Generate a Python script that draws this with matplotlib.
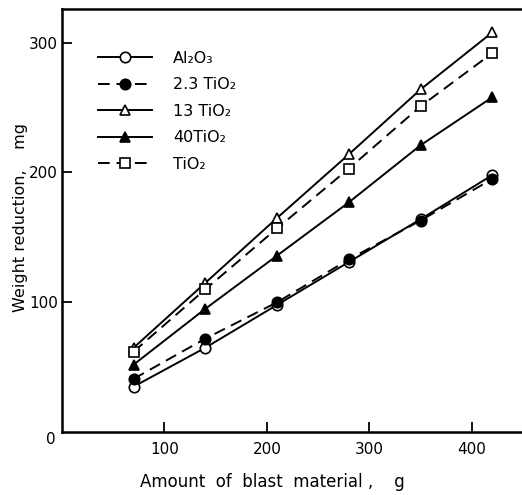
import numpy as np
import matplotlib
matplotlib.use("Agg")
import matplotlib.pyplot as plt

# blast material amount (g)
amount = [70, 140, 210, 280, 350, 420]

# weight reduction (mg) for each powder
al2o3 = [35, 65, 98, 131, 164, 198]
tio2_23 = [41, 72, 100, 133, 163, 195]
tio2_13 = [65, 115, 165, 214, 264, 308]
tio2_40 = [52, 95, 136, 177, 221, 258]
tio2 = [62, 110, 157, 203, 251, 292]

labels = ["Al\u2082O\u2083", "2.3 TiO\u2082", "13 TiO\u2082", "40TiO\u2082", "TiO\u2082"]

plt.rcParams["font.family"] = "DejaVu Sans"
plt.rcParams["font.size"] = 11

fig = plt.figure(figsize=(5.22, 4.95), dpi=100)
ax = fig.add_axes([62 / 522, 63 / 495, 460 / 522, 423 / 495])

dash = (0, (6, 3.5))
kw = dict(color="black", lw=1.4, mec="black", mew=1.2)
ax.plot(amount, al2o3, "-", marker="o", ms=7.5, mfc="white", label=labels[0], **kw)
ax.plot(amount, tio2_23, linestyle=dash, marker="o", ms=7.5, mfc="black", label=labels[1], **kw)
ax.plot(amount, tio2_13, "-", marker="^", ms=7.5, mfc="white", label=labels[2], **kw)
ax.plot(amount, tio2_40, "-", marker="^", ms=7.5, mfc="black", label=labels[3], **kw)
ax.plot(amount, tio2, linestyle=dash, marker="s", ms=6.5, mfc="white", label=labels[4], **kw)

ax.set_xlim(0, 449)
ax.set_ylim(0, 326)
ax.set_xticks([100, 200, 300, 400])
ax.set_yticks([100, 200, 300])
ax.tick_params(direction="in", length=7, width=1.3, labelsize=11)
ax.tick_params(axis="x", pad=7)
ax.tick_params(axis="y", pad=3)
ax.text(-11, -6, "0", ha="center", va="center", fontsize=11, clip_on=False)

for side in ["left", "bottom", "top"]:
    ax.spines[side].set_linewidth(1.8)
ax.spines["right"].set_visible(False)

ax.set_xlabel("Amount  of  blast  material ,    g", fontsize=12)
ax.xaxis.set_label_coords((272 - 62) / 460, (432 - 473) / 423)
ax.set_ylabel("Weight reduction,    mg", fontsize=11.5)
ax.yaxis.set_label_coords((28 - 62) / 460, (432 - 217) / 423)

ax.legend(loc="upper left", bbox_to_anchor=(90 / 522, 1 - 43 / 495),
          bbox_transform=fig.transFigure, frameon=False, borderpad=0,
          handlelength=3.4, handletextpad=1.3, labelspacing=0.72, fontsize=11.5)

fig.savefig("out.png", dpi=100)
